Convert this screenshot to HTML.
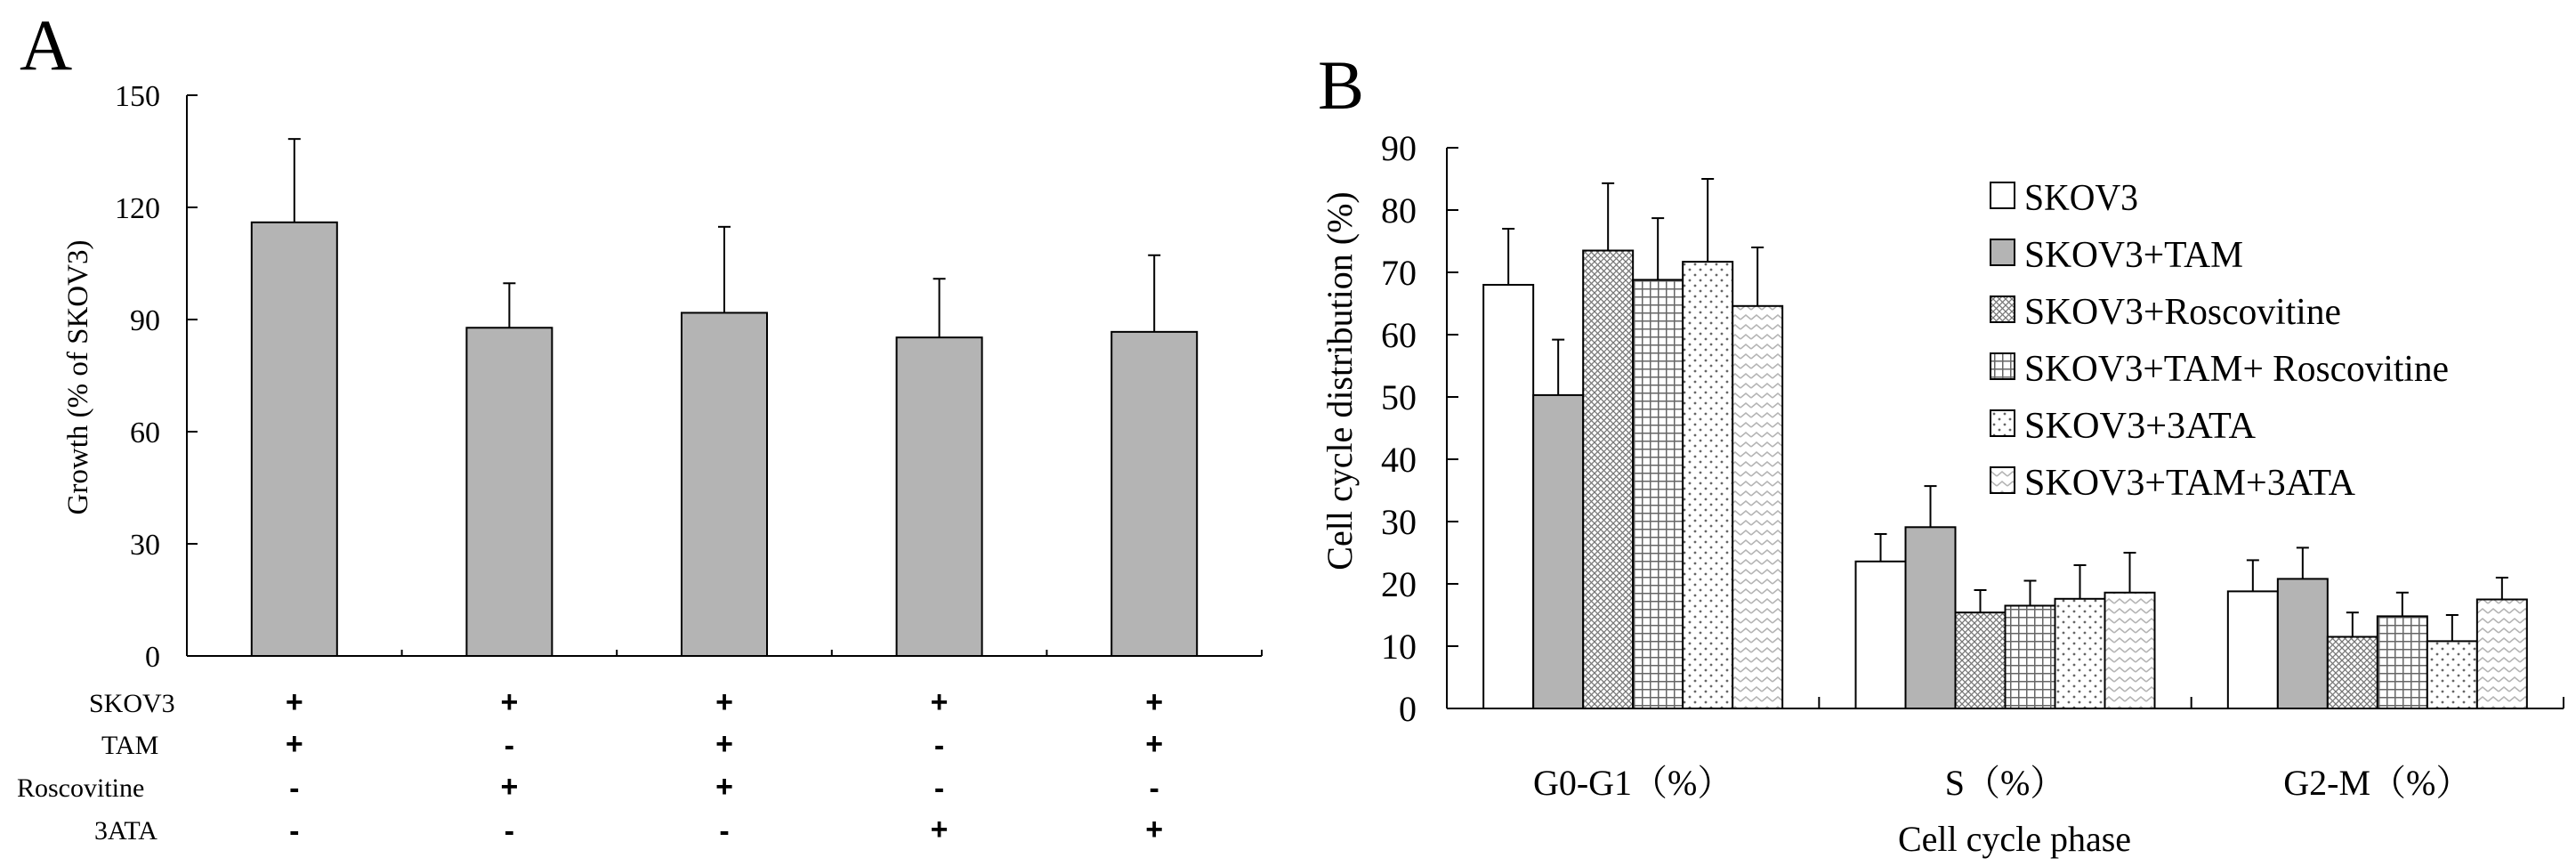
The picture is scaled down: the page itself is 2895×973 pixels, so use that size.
<!DOCTYPE html>
<html><head><meta charset="utf-8"><style>
html,body{margin:0;padding:0;background:#fff}
svg{display:block}
text{font-family:"Liberation Serif","Noto Serif CJK SC",serif;fill:#000}
</style></head><body>
<svg id="fig" width="2895" height="973" viewBox="0 0 2895 973" xmlns="http://www.w3.org/2000/svg">
<defs>
<pattern id="p-diamond" width="7" height="7" patternUnits="userSpaceOnUse"><rect width="7" height="7" fill="#fff"/><path d="M0,0L7,7M7,0L0,7" stroke="#777" stroke-width="1.3"/></pattern>
<pattern id="p-grid" width="9" height="9" patternUnits="userSpaceOnUse"><rect width="9" height="9" fill="#fff"/><path d="M0,0.5H9M0.5,0V9" stroke="#666" stroke-width="2"/></pattern>
<pattern id="p-dots" width="12" height="12" patternUnits="userSpaceOnUse"><rect width="12" height="12" fill="#fff"/><circle cx="3" cy="3" r="1.4" fill="#666"/><circle cx="9" cy="9" r="1.4" fill="#666"/></pattern>
<pattern id="p-zig" width="12" height="11" patternUnits="userSpaceOnUse"><rect width="12" height="11" fill="#fff"/><polyline points="0,7 6,2 12,7" fill="none" stroke="#b4b4b4" stroke-width="1.6"/></pattern>
</defs>
<g id="panelA"></g>
<g id="panelB"></g>
</svg>
<script>
// Panel A data
const aCategories = ["1","2","3","4","5"];
const aValues = [116, 87.8, 91.8, 85.2, 86.7];
const aErrors = [138.3, 99.7, 114.8, 100.9, 107.2];
const aTicks = [0, 30, 60, 90, 120, 150];
const aRowLabels = ["SKOV3","TAM","Roscovitine","3ATA"];
const aSigns = [["+","+","+","+","+"],["+","-","+","-","+"],["-","+","+","-","-"],["-","-","-","+","+"]];
// Panel B data
const bCategories = ["G0-G1（%）","S（%）","G2-M（%）"];
const bSeriesNames = ["SKOV3","SKOV3+TAM","SKOV3+Roscovitine","SKOV3+TAM+ Roscovitine","SKOV3+3ATA","SKOV3+TAM+3ATA"];
const bSKOV3 = [68, 23.6, 18.8];
const bTAM = [50.3, 29.1, 20.8];
const bRosc = [73.5, 15.4, 11.5];
const bTAMRosc = [68.8, 16.5, 14.8];
const b3ATA = [71.7, 17.6, 10.8];
const bTAM3ATA = [64.6, 18.6, 17.5];
const bErrSKOV3 = [77, 28, 23.8];
const bErrTAM = [59.2, 35.7, 25.8];
const bErrRosc = [84.3, 19, 15.4];
const bErrTAMRosc = [78.7, 20.5, 18.6];
const bErr3ATA = [85, 23, 15];
const bErrTAM3ATA = [74, 25, 21];
const bTicks = [0,10,20,30,40,50,60,70,80,90];

const NS = "http://www.w3.org/2000/svg";
function mk(parent, tag, attrs, txt){const e=document.createElementNS(NS,tag);for(const k in attrs)e.setAttribute(k,attrs[k]);if(txt!==undefined)e.textContent=txt;parent.appendChild(e);return e;}

// ---------- Panel A ----------
(function(){
const g=document.getElementById('panelA');
const x0=210,x1=1418,y0=737,yTop=107,vmax=150;
const yA=v=>y0-(v/vmax)*(y0-yTop);
const cw=(x1-x0)/aCategories.length;
const xA=i=>x0+cw*(i+0.5);
let t=mk(g,'text',{x:22,y:78,'font-size':82});t.textContent='A';


let ax=mk(g,'line',{x1:x0,y1:yTop,x2:x0,y2:y0,stroke:'#000','stroke-width':2});


let bx=mk(g,'line',{x1:x0,y1:y0,x2:x1,y2:y0,stroke:'#000','stroke-width':2});


aTicks.forEach(v=>{
  mk(g,'line',{x1:x0,y1:yA(v),x2:x0+12,y2:yA(v),stroke:'#000','stroke-width':2});
  const l=mk(g,'text',{x:180,y:yA(v)+12,'font-size':34,'text-anchor':'end'},String(v));
  
  
});
for(let i=1;i<=aCategories.length;i++){const xx=x0+cw*i;mk(g,'line',{x1:xx,y1:y0,x2:xx,y2:y0-7,stroke:'#000','stroke-width':2});}
const yt=mk(g,'text',{x:0,y:0,'font-size':33,'text-anchor':'middle',transform:'translate(98,424) rotate(-90)'},'Growth (% of SKOV3)');


const bw=96;
aValues.forEach((v,i)=>{
  const cx=xA(i);
  mk(g,'line',{x1:cx,y1:yA(v),x2:cx,y2:yA(aErrors[i]),stroke:'#000','stroke-width':2});
  mk(g,'line',{x1:cx-7,y1:yA(aErrors[i]),x2:cx+7,y2:yA(aErrors[i]),stroke:'#000','stroke-width':2});
  const r=mk(g,'rect',{x:cx-bw/2,y:yA(v),width:bw,height:y0-yA(v),fill:'#b4b4b4',stroke:'#000','stroke-width':2});
  
  
});
const rowY=[800,847,895,943];
const rowX=[100,114,19,106];
aRowLabels.forEach((lab,r)=>{
  const l=mk(g,'text',{x:rowX[r],y:rowY[r],'font-size':30},lab);
  
  
  aSigns[r].forEach((s,i)=>{
    const st=mk(g,'text',{x:xA(i),y:rowY[r]+(s=='-'?2:0),'font-size':34,'font-weight':'bold','text-anchor':'middle',style:'font-family:"Liberation Sans",sans-serif'},s);
    
    
  });
});
})();

// ---------- Panel B ----------
(function(){
const g=document.getElementById('panelB');
const x0=1626,x1=2881,y0=796,yTop=166,vmax=90;
const yB=v=>y0-(v/vmax)*(y0-yTop);
const cw=(x1-x0)/bCategories.length;
const series=[bSKOV3,bTAM,bRosc,bTAMRosc,b3ATA,bTAM3ATA];
const errs=[bErrSKOV3,bErrTAM,bErrRosc,bErrTAMRosc,bErr3ATA,bErrTAM3ATA];
const fills=['#fff','#b4b4b4','url(#p-diamond)','url(#p-grid)','url(#p-dots)','url(#p-zig)'];
let t=mk(g,'text',{x:1481,y:122,'font-size':78},'B');


let ax=mk(g,'line',{x1:x0,y1:yTop,x2:x0,y2:y0,stroke:'#000','stroke-width':2});


let bx=mk(g,'line',{x1:x0,y1:y0,x2:x1,y2:y0,stroke:'#000','stroke-width':2});


bTicks.forEach(v=>{
  mk(g,'line',{x1:x0,y1:yB(v),x2:x0+13,y2:yB(v),stroke:'#000','stroke-width':2});
  const l=mk(g,'text',{x:1592,y:yB(v)+14,'font-size':40,'text-anchor':'end'},String(v));
  
  
});
for(let i=1;i<=bCategories.length;i++){const xx=x0+cw*i;mk(g,'line',{x1:xx,y1:y0,x2:xx,y2:y0-13,stroke:'#000','stroke-width':2});}
const yt=mk(g,'text',{x:0,y:0,'font-size':40,'text-anchor':'middle',transform:'translate(1519,428) rotate(-90)'},'Cell cycle distribution (%)');


const bw=56;
bCategories.forEach((c,ci)=>{
  const gx=x0+cw*ci+(cw-bw*6)/2;
  series.forEach((s,si)=>{
    const v=s[ci],e=errs[si][ci];
    const bxl=gx+si*bw,cx=bxl+bw/2;
    mk(g,'line',{x1:cx,y1:yB(v),x2:cx,y2:yB(e),stroke:'#000','stroke-width':2});
    mk(g,'line',{x1:cx-7,y1:yB(e),x2:cx+7,y2:yB(e),stroke:'#000','stroke-width':2});
    const r=mk(g,'rect',{x:bxl,y:yB(v),width:bw,height:y0-yB(v),fill:fills[si],stroke:'#000','stroke-width':2});
    
    
  });
  const l=mk(g,'text',{x:x0+cw*(ci+0.5),y:893,'font-size':40,'text-anchor':'middle'},c);
  
  
});
const xt=mk(g,'text',{x:2264,y:956,'font-size':40,'text-anchor':'middle'},'Cell cycle phase');


const lg=mk(g,'g',{});


const lw=[128,246,356,477,260,372];
bSeriesNames.forEach((n,i)=>{
  const ty=205+i*64;
  const e=mk(lg,'g',{});
  
  
  mk(e,'rect',{x:2237,y:ty,width:27,height:29,fill:fills[i],stroke:'#000','stroke-width':2});
  mk(e,'text',{x:2275,y:ty+31,'font-size':42,textLength:lw[i],lengthAdjust:'spacingAndGlyphs',style:'font-family:"Liberation Serif",serif'},n);
});
})();
</script>
</body></html>
